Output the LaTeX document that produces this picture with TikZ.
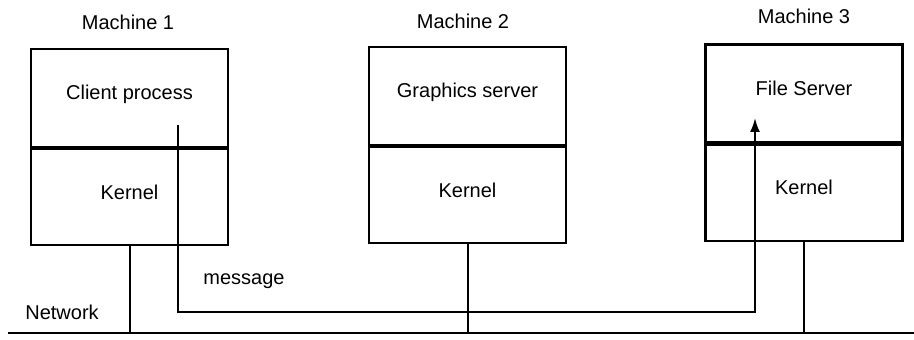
\documentclass[tikz,border=0pt]{standalone}
\usepackage{fontspec}
\setmainfont{Liberation Sans}
\usetikzlibrary{positioning,arrows.meta}
\tikzset{
  procbox/.style={draw, line width=1.1pt, minimum width=98.5pt, minimum height=49pt,
    text height=7pt, text depth=5pt},
  kernelbox/.style={procbox, minimum height=48pt},
  wire/.style={line width=1pt},
}
\begin{document}
\begin{tikzpicture}[x=0.5pt, y=-0.5pt]
    \useasboundingbox (0,0) rectangle (914,340);

    % MACHINE 1
    \node (mach1) at (128,22) {Machine 1};
    \node[procbox] (proc1) at (129.5,98) {Client process};
    \node[kernelbox, below=0pt of proc1] (kern1) {Kernel};

    % MACHINE 2
    \node (mach2) at (463,21) {Machine 2};
    \node[procbox] (proc2) at (467.5,96) {Graphics server};
    \node[kernelbox, below=0pt of proc2] (kern2) {Kernel};

    % MACHINE 3
    \node (mach3) at (804,16) {Machine 3};
    \node[procbox] (proc3) at (804,93.5) {File Server};
    \node[kernelbox, below=0pt of proc3] (kern3) {Kernel};

    % NETWORK
    \coordinate (netL) at (8,333);
    \coordinate (netR) at (914,333);
    \draw[wire] (netL) -- (netR);
    \node (netlabel) at (62,312) {Network};

    % Drops from each kernel to the network
    \draw[wire] (kern1.south) -- (kern1.south |- netL);
    \draw[wire] (kern2.south) -- (kern2.south |- netL);
    \draw[wire] (kern3.south) -- (kern3.south |- netL);

    % MESSAGE from client to file server
    \coordinate (msgstart) at (178,125);
    \coordinate (msgbend) at (755,312);
    \coordinate (msgend) at (755,118);
    \draw[wire, -{Latex[length=7pt,width=5pt]}] (msgstart) |- (msgbend) -- (msgend);
    \node (msglabel) at (244,281) {message};
\end{tikzpicture}
\end{document}
